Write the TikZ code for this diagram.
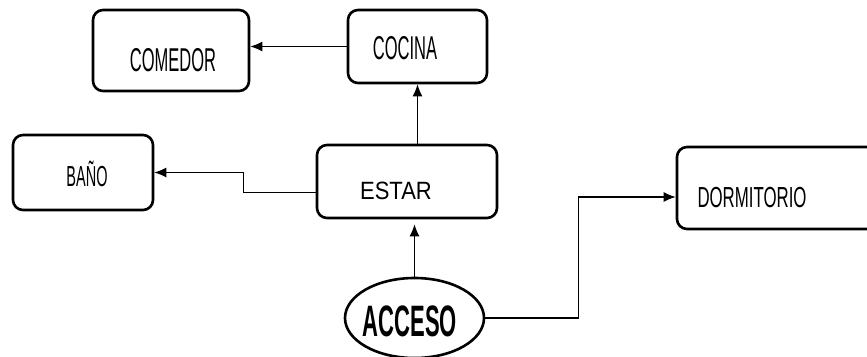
\documentclass[tikz,border=0pt]{standalone}
\usepackage{fontspec}
\setmainfont{Liberation Sans}
\newfontfamily\slimfont{Liberation Sans}[FakeStretch=0.5]
\newfontfamily\dormfont{Liberation Sans}[FakeStretch=0.58]
\newfontfamily\plainfont{Liberation Sans}[FakeStretch=0.88]
\newfontfamily\heavyfont{Liberation Sans Bold}[FakeStretch=0.5]
\usetikzlibrary{arrows.meta}
\usetikzlibrary{shapes.geometric}
\usetikzlibrary{positioning}

\tikzset{
  caja/.style={draw,line width=2.6pt,rounded corners=10pt,inner sep=0pt},
  flecha/.style={line width=1.3pt,-{Latex[length=12pt,width=10pt]}},
  texto/.style={inner sep=0pt,text depth=0pt}
}

\begin{document}
\begin{tikzpicture}[x=1pt,y=-1pt]
\useasboundingbox (0,0) rectangle (867,356);

% Las cajas
\node[caja,minimum width=156,minimum height=81,
  label={[texto,font=\slimfont\fontsize{33}{33}\selectfont,xshift=2pt,yshift=-9.5pt]center:COMEDOR}]
  (comedor) at (171,50.5) {};
\node[caja,minimum width=139,minimum height=73,
  label={[texto,font=\slimfont\fontsize{33}{33}\selectfont,xshift=-12.5pt,yshift=-1.5pt]center:COCINA}]
  (cocina) at (417.5,46.5) {};
\node[caja,minimum width=140,minimum height=75,
  label={[texto,font=\slimfont\fontsize{29}{29}\selectfont,xshift=4pt,yshift=-1pt]center:BAÑO}]
  (bano) at (83,172.5) {};
\node[caja,minimum width=180,minimum height=73,
  label={[texto,font=\plainfont\fontsize{25}{25}\selectfont,xshift=-11pt,yshift=-9.5pt]center:ESTAR}]
  (estar) at (407,181.5) {};
\node[caja,minimum width=213,minimum height=82,
  label={[texto,font=\dormfont\fontsize{29}{29}\selectfont,xshift=-31.5pt,yshift=-9pt]center:DORMITORIO}]
  (dormitorio) at (783.5,188) {};

% Acceso
\node[draw,ellipse,line width=2.6pt,minimum width=139,minimum height=80,inner sep=0pt,
  label={[texto,font=\heavyfont\fontsize{44}{44}\selectfont,xshift=-4.5pt,yshift=-3pt]center:ACCESO}]
  (acceso) at (414.5,318) {};

% Recorridos
\draw[flecha] (cocina.west) -- (cocina.west -| comedor.east);
\draw[flecha] (cocina.south |- estar.north) -- (cocina.south);
\draw[flecha] ([yshift=-11pt]estar.west) -- ++(-72,0) |- (bano.east);
\draw[flecha,shorten >=5pt] (acceso.north) -- (acceso.north |- estar.south);
\draw[flecha] (acceso.east) -- ++(93,0) |- ([yshift=-9pt]dormitorio.west);
\end{tikzpicture}
\end{document}
